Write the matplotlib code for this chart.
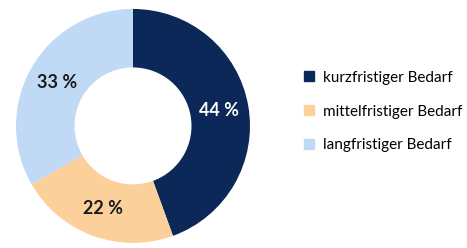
import matplotlib.pyplot as plt
from matplotlib.lines import Line2D
import numpy as np

plt.rcParams['font.family'] = ['Lato', 'DejaVu Sans']

categories = ['kurzfristiger Bedarf', 'mittelfristiger Bedarf', 'langfristiger Bedarf']
values = [44, 22, 33]
labels = ['44 %', '22 %', '33 %']
colors = ['#0b2858', '#fbd09a', '#c0daf6']
text_colors = ['white', '#1a1a1a', '#1a1a1a']

fig = plt.figure(figsize=(4.67, 2.48), dpi=100)
ax = fig.add_axes([0.0343, 0.0202, 0.501, 0.944])

wedges, _ = ax.pie(values, colors=colors, startangle=90, counterclock=False,
                   radius=1.0, wedgeprops=dict(width=0.5, linewidth=0))
ax.set_xlim(-1, 1)
ax.set_ylim(-1, 1)

# value labels in the middle of the ring
total = sum(values)
start = 90
for v, lab, tc in zip(values, labels, text_colors):
    mid = np.deg2rad(start - 360 * v / total / 2)
    ax.text(0.75 * np.cos(mid), 0.75 * np.sin(mid), lab, ha='center', va='center',
            fontsize=13, fontweight='bold', color=tc)
    start -= 360 * v / total

handles = [Line2D([], [], marker='s', linestyle='none', markersize=6.5,
                  markerfacecolor=c, markeredgecolor=c) for c in colors]
fig.legend(handles, categories, loc='center left', bbox_to_anchor=(0.615, 0.55),
           frameon=False, fontsize=11, handletextpad=0.45, labelspacing=1.3,
           handlelength=1.0)

fig.savefig('out.png', dpi=100)
